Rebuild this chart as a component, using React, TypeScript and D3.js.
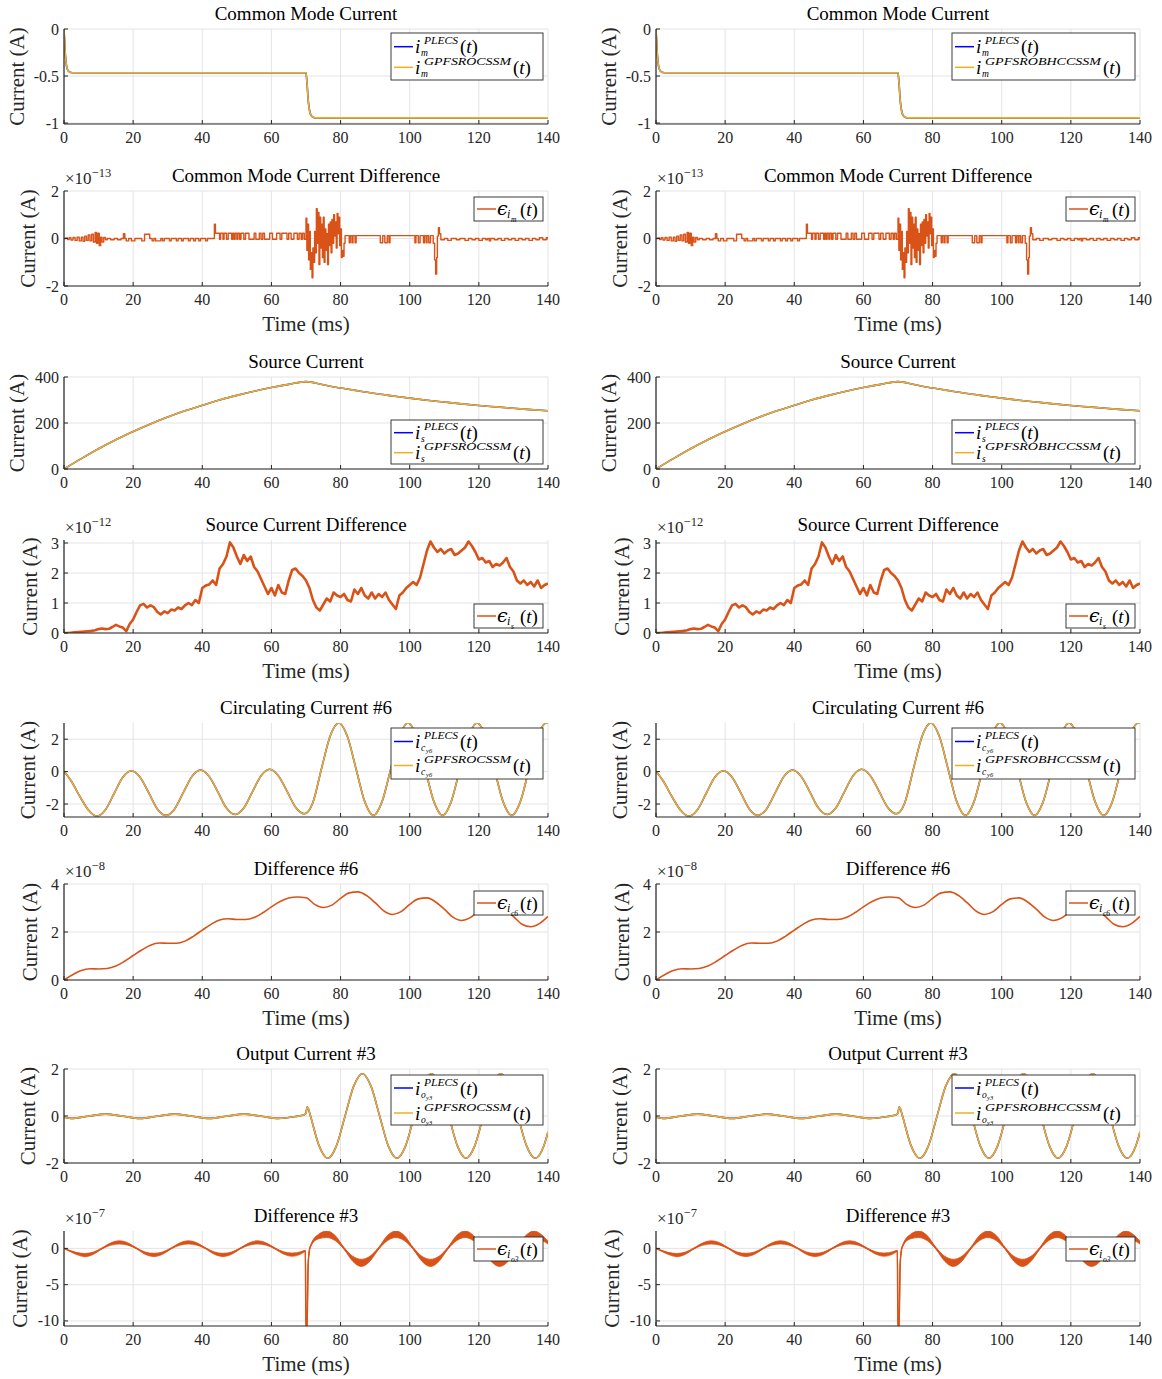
import React from "react";
import * as d3 from "d3";

const FONT = "'Liberation Serif', 'Times New Roman', serif";
const AXIS = "#262626";
const GRID = "#e4e4e4";
const BLUE = "#0000ff";
const GOLD = "#EDB120";
const RED = "#D95319";

const xTicks = [0, 20, 40, 60, 80, 100, 120, 140];
const colLefts = [64, 656];
const PW = 484;

// ---------- Common mode current ----------
const cmT = [0, 0.3, 0.6, 1, 1.5, 2, 3, 70, 70.3, 70.7, 71.1, 71.6, 72.2, 73, 140];
const cmV = [0, -0.22, -0.36, -0.43, -0.455, -0.462, -0.465, -0.465, -0.58, -0.78, -0.88, -0.925, -0.94, -0.945, -0.945];

// ---------- Common mode current difference (x1e-13) ----------
const cmDiffT = [0, 0.5, 1.0, 1.5, 2.0, 2.6, 3.2, 3.8, 4.4, 5.0, 5.5, 6.0, 6.5, 7.0, 7.5, 8.0, 8.5, 9.0, 9.4, 9.8, 10.2, 10.6, 11.0, 11.5, 12.0, 12.5, 13.5, 14.5, 15.5, 16.5, 17.2, 17.6, 18.0, 18.7, 19.5, 20.5, 22.5, 23.3, 24.8, 25.5, 26, 26.5, 28, 28.5, 29, 30.5, 31, 32.5, 33, 34, 34.5, 36, 36.5, 37.5, 38, 39, 39.5, 41, 41.5, 43.5, 43.8, 45, 45.3, 46, 46.3, 47, 47.5, 48.5, 48.8, 49.2, 49.5, 50, 50.3, 50.8, 51.2, 52, 52.5, 53.5, 55, 55.5, 56.5, 57, 57.5, 58, 59.5, 60.3, 61.5, 62.5, 63, 64.5, 65, 65.7, 66.5, 67.5, 68, 68.6, 69, 69.5, 70, 70.25, 70.5, 70.75, 71, 71.25, 71.5, 71.75, 72, 72.25, 72.5, 72.75, 73, 73.25, 73.5, 73.75, 74, 74.25, 74.5, 74.75, 75, 75.25, 75.5, 75.75, 76, 76.25, 76.5, 76.75, 77, 77.25, 77.5, 77.75, 78, 78.25, 78.5, 78.75, 79, 79.25, 79.5, 79.75, 80, 80.25, 80.5, 80.75, 81, 81.3, 82.5, 82.8, 83.3, 83.6, 84.2, 84.5, 91.5, 92.2, 92.8, 93.5, 94, 94.3, 101.5, 101.8, 102.5, 103, 104, 104.3, 104.8, 105, 105.5, 106, 106.8, 107.2, 107.5, 107.8, 108, 108.3, 108.6, 109, 110, 111, 112, 113.5, 114.5, 116, 117, 118, 119, 120, 121, 122, 122.5, 123, 123.4, 124.5, 125.5, 126.5, 127.5, 128.5, 129.5, 130.5, 131.5, 132.5, 133.5, 134.5, 135.5, 136.5, 137.5, 138.5, 139.5, 140];
const cmDiffV = [0, 0.02, -0.04, 0.03, -0.06, 0.04, -0.08, 0.05, -0.1, 0.06, -0.12, 0.1, -0.08, 0.15, -0.1, 0.18, -0.15, 0.25, -0.2, 0.22, -0.3, 0.05, -0.15, 0.04, -0.05, 0, -0.05, 0, -0.05, 0, 0.2, 0, -0.1, 0, -0.1, 0, -0.1, 0.18, 0, -0.1, 0, -0.1, 0, -0.1, 0, -0.1, 0, -0.1, 0, -0.1, 0, -0.1, 0, -0.1, 0, -0.1, 0, -0.1, 0, 0.6, 0.22, -0.03, 0.22, -0.03, 0.22, -0.03, 0.22, -0.03, 0.22, -0.03, 0.22, -0.03, 0.22, -0.03, 0.22, -0.03, 0.22, -0.03, 0.22, -0.03, 0.22, -0.03, 0.22, -0.03, 0.22, -0.03, 0.22, -0.03, 0.22, -0.03, 0.22, -0.03, 0.22, -0.03, 0.22, -0.03, 0.22, -0.03, 0.85, -0.5, 0.6, -0.9, 0.3, -1.3, -0.6, -1.65, -0.4, -1.0, 0.3, -0.6, 1.25, -0.2, 1.1, -1.1, 0.9, -0.4, 0.6, -0.8, 0.9, -1.0, 0.4, -0.5, 0.2, -1.1, 0.6, -0.3, 0.7, -0.6, 0.8, -0.2, 1.0, 0.1, 0.7, -0.4, 1.05, 0.2, 0.9, -0.3, 0.4, -0.8, -0.5, -0.75, -0.2, 0.12, -0.18, 0.12, -0.18, 0.12, -0.18, 0.12, -0.18, 0.12, -0.18, 0.12, -0.18, 0.12, -0.18, 0.12, -0.18, 0.12, -0.18, 0.12, -0.18, 0.12, -0.18, 0.12, -0.2, -0.9, -1.5, -0.8, 0.1, 0.45, 0.2, -0.05, 0, -0.08, 0, -0.05, 0, -0.08, 0, -0.05, 0, -0.08, 0, -0.05, 0, -0.1, 0, -0.05, 0, -0.08, 0, -0.05, 0, -0.08, 0, -0.05, 0, -0.08, 0, -0.05, 0.03, -0.05, 0.03, -0.05];

// ---------- Source current ----------
const srcT = [0, 5, 10, 15, 20, 25, 30, 35, 40, 45, 50, 55, 60, 65, 70, 75, 80, 85, 90, 95, 100, 105, 110, 115, 120, 125, 130, 135, 140];
const srcV = [0, 45, 88, 127, 163, 196, 226, 253, 277, 300, 320, 338, 354, 368, 380, 366, 352, 340, 328, 318, 308, 299, 291, 283, 276, 270, 264, 258, 253];

// ---------- Source current difference (x1e-12), 1 ms samples ----------
const srcDiffV = [0, 0, 0.01, 0.02, 0.03, 0.04, 0.05, 0.06, 0.07, 0.09, 0.13, 0.15, 0.13, 0.14, 0.2, 0.27, 0.22, 0.18, 0.06, 0.3, 0.45, 0.7, 0.92, 0.97, 0.85, 0.92, 0.86, 0.7, 0.62, 0.72, 0.66, 0.78, 0.75, 0.85, 0.8, 0.92, 1.0, 0.93, 1.1, 1.0, 1.5, 1.58, 1.62, 1.75, 1.6, 2.15, 2.3, 2.55, 3.02, 2.85, 2.55, 2.3, 2.6, 2.4, 2.55, 2.2, 2.05, 1.8, 1.55, 1.3, 1.5, 1.25, 1.6, 1.35, 1.3, 1.75, 2.1, 2.15, 2.0, 1.9, 1.75, 1.5, 1.1, 0.85, 0.75, 0.95, 1.15, 1.05, 1.35, 1.25, 1.2, 1.3, 1.1, 1.05, 1.45, 1.3, 1.5, 1.25, 1.15, 1.35, 1.15, 1.3, 1.2, 1.35, 1.1, 0.95, 0.8, 1.25, 1.35, 1.5, 1.6, 1.7, 1.6, 1.85, 2.3, 2.75, 3.05, 2.85, 2.7, 2.8, 2.65, 2.75, 2.8, 2.6, 2.65, 2.75, 2.85, 3.05, 2.9, 2.7, 2.45, 2.5, 2.35, 2.4, 2.2, 2.3, 2.25, 2.35, 2.5, 2.2, 2.05, 1.75, 1.65, 1.75, 1.6, 1.7, 1.55, 1.75, 1.5, 1.6, 1.65];
const srcDiffT = srcDiffV.map((_, i) => i);

// ---------- Circulating current #6 ----------
const circT = [0, 2, 4.5, 7, 9.5, 12, 14.5, 17, 19.5, 22, 24.5, 27, 29.5, 32, 34.5, 37, 39.5, 42, 44.5, 47, 49.5, 52, 54.5, 57, 59.5, 62, 64.5, 67, 69.5, 72, 74.5, 77, 79.5, 82, 84.5, 87, 89.5, 92, 94.5, 97, 99.5, 102, 104.5, 107, 109.5, 112, 114.5, 117, 119.5, 122, 124.5, 127, 129.5, 132, 134.5, 137, 139.5, 140];
const circV = [0, -0.55, -1.5, -2.35, -2.75, -2.35, -1.35, -0.35, 0.05, -0.35, -1.3, -2.3, -2.7, -2.3, -1.3, -0.3, 0.1, -0.3, -1.25, -2.25, -2.65, -2.25, -1.25, -0.25, 0.15, -0.25, -1.2, -2.2, -2.6, -1.9, 0.2, 2.2, 3.0, 2.15, 0.15, -1.85, -2.7, -1.85, 0.15, 2.15, 3.0, 2.15, 0.15, -1.85, -2.7, -1.85, 0.15, 2.15, 3.0, 2.15, 0.15, -1.85, -2.7, -1.85, 0.15, 2.15, 3.0, 2.98];

// ---------- Difference #6 (x1e-8) ----------
const d6T = [0, 2.5, 5, 7.5, 10, 12.5, 15, 17.5, 20, 22.5, 25, 27.5, 30, 32.5, 35, 37.5, 40, 42.5, 45, 47.5, 50, 52.5, 55, 57.5, 60, 62.5, 65, 67.5, 70, 72.5, 75, 77.5, 80, 82.5, 85, 87.5, 90, 92.5, 95, 97.5, 100, 102.5, 105, 107.5, 110, 112.5, 115, 117.5, 120, 122.5, 125, 127.5, 130, 132.5, 135, 137.5, 140];
const d6V = [0, 0.22, 0.4, 0.47, 0.46, 0.48, 0.58, 0.78, 1.02, 1.25, 1.45, 1.54, 1.53, 1.53, 1.62, 1.83, 2.08, 2.32, 2.5, 2.55, 2.52, 2.52, 2.6, 2.8, 3.05, 3.27, 3.42, 3.46, 3.43, 3.15, 3.02, 3.12, 3.4, 3.63, 3.67, 3.52, 3.22, 2.88, 2.73, 2.85, 3.15, 3.38, 3.42, 3.25, 2.95, 2.62, 2.48, 2.6, 2.88, 3.1, 3.15, 2.98, 2.65, 2.32, 2.22, 2.35, 2.65];

// ---------- Output current #3 ----------
const outT = [0, 2, 7, 12, 17, 22, 27, 32, 37, 42, 47, 52, 57, 62, 67, 69.5, 70.0, 70.3, 70.7, 71.3, 73.8, 76.3, 78.8, 81.3, 83.8, 86.3, 88.8, 91.3, 93.8, 96.3, 98.8, 101.3, 103.8, 106.3, 108.8, 111.3, 113.8, 116.3, 118.8, 121.3, 123.8, 126.3, 128.8, 131.3, 133.8, 136.3, 138.8, 140];
const outV = [-0.05, -0.1, -0.01, 0.08, -0.01, -0.1, -0.01, 0.08, -0.01, -0.1, -0.01, 0.08, -0.01, -0.1, -0.02, 0.05, 0.12, 0.38, 0.3, 0.0, -1.27, -1.8, -1.27, 0, 1.27, 1.8, 1.27, 0, -1.27, -1.8, -1.27, 0, 1.27, 1.8, 1.27, 0, -1.27, -1.8, -1.27, 0, 1.27, 1.8, 1.27, 0, -1.27, -1.8, -1.27, -0.68];

// ---------- Difference #3 (x1e-7): centre and ripple half-width ----------
const d3T = [0, 1, 3.5, 6, 8.5, 11, 13.5, 16, 18.5, 21, 23.5, 26, 28.5, 31, 33.5, 36, 38.5, 41, 43.5, 46, 48.5, 51, 53.5, 56, 58.5, 61, 63.5, 66, 68.5, 69.8, 70.0, 70.3, 70.6, 71, 71.5, 72.2, 73.5, 76, 78.5, 81, 83.5, 86, 88.5, 91, 93.5, 96, 98.5, 101, 103.5, 106, 108.5, 111, 113.5, 116, 118.5, 121, 123.5, 126, 128.5, 131, 133.5, 136, 138.5, 140];
const d3C = [0, -0.2, -0.68, -0.92, -0.66, 0, 0.6, 0.83, 0.6, 0, -0.66, -0.9, -0.65, 0, 0.6, 0.83, 0.6, 0, -0.65, -0.9, -0.65, 0, 0.6, 0.83, 0.6, 0, -0.62, -0.86, -0.62, -0.35, -11, -11, -2.5, -0.2, 0.5, 1.1, 1.6, 1.95, 1.4, 0, -1.42, -2.0, -1.42, 0, 1.4, 1.95, 1.4, 0, -1.42, -2.0, -1.42, 0, 1.4, 1.95, 1.4, 0, -1.42, -2.0, -1.42, 0, 1.4, 1.95, 1.4, 0.8];
const d3H = [0.02, 0.04, 0.14, 0.22, 0.16, 0.06, 0.16, 0.22, 0.16, 0.06, 0.16, 0.22, 0.16, 0.06, 0.16, 0.22, 0.16, 0.06, 0.16, 0.22, 0.16, 0.06, 0.16, 0.22, 0.16, 0.06, 0.16, 0.22, 0.16, 0.08, 0.05, 0.05, 0.05, 0.05, 0.1, 0.2, 0.3, 0.45, 0.35, 0.12, 0.35, 0.5, 0.35, 0.12, 0.35, 0.45, 0.35, 0.12, 0.35, 0.5, 0.35, 0.12, 0.35, 0.45, 0.35, 0.12, 0.35, 0.5, 0.35, 0.12, 0.35, 0.45, 0.35, 0.2];

const methodNames = ["GPFSROCSSM", "GPFSROBHCCSSM"];
const methodSupW = [87, 116];
const legendW = [152, 183];

type Series =
  | { type: "line"; t: number[]; v: number[]; color: string; width: number; curve: any }
  | { type: "band"; t: number[]; c: number[]; h: number[]; color: string };

type Row = {
  title: string;
  top: number;
  bottom: number;
  domain: [number, number];
  yTicks: number[];
  yLabels: string[];
  ylabelX: number;
  xlabel: boolean;
  exp: string | null;
  series: Series[];
  legend: { kind: "main" | "diff"; y: number; h: number; e1: number; e2: number; sub: string; subsub: string };
};

const rows: Row[] = [
  {
    title: "Common Mode Current", top: 29, bottom: 124, domain: [-1.01, 0],
    yTicks: [-1, -0.5, 0], yLabels: ["-1", "-0.5", "0"], ylabelX: 17, xlabel: false, exp: null,
    series: [
      { type: "line", t: cmT, v: cmV, color: BLUE, width: 1.6, curve: d3.curveMonotoneX },
      { type: "line", t: cmT, v: cmV, color: GOLD, width: 1.6, curve: d3.curveMonotoneX },
    ],
    legend: { kind: "main", y: 33, h: 47, e1: 13.7, e2: 34.3, sub: "m", subsub: "" },
  },
  {
    title: "Common Mode Current Difference", top: 191, bottom: 286, domain: [-2, 2],
    yTicks: [-2, 0, 2], yLabels: ["-2", "0", "2"], ylabelX: 28, xlabel: true, exp: "13",
    series: [{ type: "line", t: cmDiffT, v: cmDiffV, color: RED, width: 1.4, curve: d3.curveStepAfter }],
    legend: { kind: "diff", y: 197, h: 24, e1: 12, e2: 0, sub: "i", subsub: "m" },
  },
  {
    title: "Source Current", top: 377, bottom: 469, domain: [0, 400],
    yTicks: [0, 200, 400], yLabels: ["0", "200", "400"], ylabelX: 17, xlabel: false, exp: null,
    series: [
      { type: "line", t: srcT, v: srcV, color: BLUE, width: 1.6, curve: d3.curveMonotoneX },
      { type: "line", t: srcT, v: srcV, color: GOLD, width: 1.6, curve: d3.curveMonotoneX },
    ],
    legend: { kind: "main", y: 420, h: 44, e1: 12.7, e2: 32.7, sub: "s", subsub: "" },
  },
  {
    title: "Source Current Difference", top: 540, bottom: 633, domain: [0, 3.1],
    yTicks: [0, 1, 2, 3], yLabels: ["0", "1", "2", "3"], ylabelX: 30, xlabel: true, exp: "12",
    series: [{ type: "line", t: srcDiffT, v: srcDiffV, color: RED, width: 2.6, curve: d3.curveLinear }],
    legend: { kind: "diff", y: 604, h: 24, e1: 12, e2: 0, sub: "i", subsub: "s" },
  },
  {
    title: "Circulating Current #6", top: 723, bottom: 817, domain: [-2.8, 3.0],
    yTicks: [-2, 0, 2], yLabels: ["-2", "0", "2"], ylabelX: 28, xlabel: false, exp: null,
    series: [
      { type: "line", t: circT, v: circV, color: BLUE, width: 1.6, curve: d3.curveMonotoneX },
      { type: "line", t: circT, v: circV, color: GOLD, width: 1.6, curve: d3.curveMonotoneX },
    ],
    legend: { kind: "main", y: 728, h: 51, e1: 13.5, e2: 37.5, sub: "c", subsub: "y6" },
  },
  {
    title: "Difference #6", top: 884, bottom: 980, domain: [0, 4],
    yTicks: [0, 2, 4], yLabels: ["0", "2", "4"], ylabelX: 30, xlabel: true, exp: "8",
    series: [{ type: "line", t: d6T, v: d6V, color: RED, width: 1.6, curve: d3.curveMonotoneX }],
    legend: { kind: "diff", y: 891, h: 24, e1: 12, e2: 0, sub: "i", subsub: "c6" },
  },
  {
    title: "Output Current #3", top: 1069, bottom: 1163, domain: [-2, 2],
    yTicks: [-2, 0, 2], yLabels: ["-2", "0", "2"], ylabelX: 28, xlabel: false, exp: null,
    series: [
      { type: "line", t: outT, v: outV, color: BLUE, width: 1.6, curve: d3.curveMonotoneX },
      { type: "line", t: outT, v: outV, color: GOLD, width: 1.6, curve: d3.curveMonotoneX },
    ],
    legend: { kind: "main", y: 1075, h: 50, e1: 13, e2: 38, sub: "o", subsub: "y3" },
  },
  {
    title: "Difference #3", top: 1231, bottom: 1326, domain: [-10.7, 2.4],
    yTicks: [-10, -5, 0], yLabels: ["-10", "-5", "0"], ylabelX: 20, xlabel: true, exp: "7",
    series: [{ type: "band", t: d3T, c: d3C, h: d3H, color: RED }],
    legend: { kind: "diff", y: 1237, h: 24, e1: 12, e2: 0, sub: "i", subsub: "o3" },
  },
];

function MainEntry({ x, yL, color, sup, supW, sub, subsub }: any) {
  return (
    <g>
      <line x1={x + 3} x2={x + 22} y1={yL} y2={yL} stroke={color} strokeWidth={1.5} />
      <text x={x + 24} y={yL + 6.5} fontSize={19} fontStyle="italic">i</text>
      <text x={x + 33} y={yL - 2.5} fontSize={11} fontStyle="italic" textLength={supW} lengthAdjust="spacingAndGlyphs">{sup}</text>
      <text x={x + 30} y={yL + 9.5} fontSize={9.5} fontStyle="italic">{sub}</text>
      {subsub && <text x={x + 35} y={yL + 11.5} fontSize={6.5} fontStyle="italic">{subsub}</text>}
      <text x={x + 33 + supW + 2} y={yL + 6.5} fontSize={19}>(<tspan fontStyle="italic">t</tspan>)</text>
    </g>
  );
}

function DiffEntry({ x, yL, sub, subsub }: any) {
  return (
    <g>
      <line x1={x + 3} x2={x + 22} y1={yL} y2={yL} stroke={RED} strokeWidth={1.5} />
      <text x={x + 23} y={yL + 6} fontSize={19} fontStyle="italic" fontFamily="'DejaVu Serif', serif">ϵ</text>
      <text x={x + 33} y={yL + 9} fontSize={12} fontStyle="italic">{sub}</text>
      <text x={x + 37} y={yL + 12.5} fontSize={7.5} fontStyle="italic">{subsub}</text>
      <text x={x + 46} y={yL + 6.5} fontSize={19}>(<tspan fontStyle="italic">t</tspan>)</text>
    </g>
  );
}

function Panel({ row, col, idx }: { row: Row; col: number; idx: number }) {
  const left = colLefts[col];
  const right = left + PW;
  const x = d3.scaleLinear().domain([0, 140]).range([left, right]);
  const y = d3.scaleLinear().domain(row.domain).range([row.bottom, row.top]);
  const clipId = `clip-${idx}-${col}`;
  const lg = row.legend;
  const lw = lg.kind === "main" ? legendW[col] : 69;
  const lx = right - 5 - lw;
  return (
    <g>
      <defs>
        <clipPath id={clipId}>
          <rect x={left} y={row.top} width={PW} height={row.bottom - row.top} />
        </clipPath>
      </defs>
      {xTicks.map((t) => (
        <line key={"gx" + t} x1={x(t)} x2={x(t)} y1={row.top} y2={row.bottom} stroke={GRID} strokeWidth={1} />
      ))}
      {row.yTicks.map((t) => (
        <line key={"gy" + t} x1={left} x2={right} y1={y(t)} y2={y(t)} stroke={GRID} strokeWidth={1} />
      ))}
      <g clipPath={`url(#${clipId})`}>
        {row.series.map((s, i) => {
          if (s.type === "line") {
            const gen = d3
              .line<number>()
              .x((_, j) => x(s.t[j]))
              .y((d) => y(d))
              .curve(s.curve);
            return <path key={i} d={gen(s.v) || ""} fill="none" stroke={s.color} strokeWidth={s.width} strokeLinejoin="round" />;
          }
          const area = d3
            .area<number>()
            .x((_, j) => x(s.t[j]))
            .y0((d, j) => y(d - s.h[j]))
            .y1((d, j) => y(d + s.h[j]))
            .curve(d3.curveMonotoneX);
          const ln = d3
            .line<number>()
            .x((_, j) => x(s.t[j]))
            .y((d) => y(d))
            .curve(d3.curveMonotoneX);
          return (
            <g key={i}>
              <path d={area(s.c) || ""} fill={s.color} stroke={s.color} strokeWidth={0.8} />
              <path d={ln(s.c) || ""} fill="none" stroke={s.color} strokeWidth={1.5} />
            </g>
          );
        })}
      </g>
      <line x1={left} x2={right} y1={row.bottom} y2={row.bottom} stroke={AXIS} strokeWidth={1.2} />
      <line x1={left} x2={left} y1={row.top} y2={row.bottom} stroke={AXIS} strokeWidth={1.2} />
      {xTicks.map((t) => (
        <g key={"xt" + t}>
          <line x1={x(t)} x2={x(t)} y1={row.bottom} y2={row.bottom - 4} stroke={AXIS} strokeWidth={1} />
          <text x={x(t)} y={row.bottom + 19} fontSize={16} textAnchor="middle" fill={AXIS}>{t}</text>
        </g>
      ))}
      {row.yTicks.map((t, i) => (
        <g key={"yt" + t}>
          <line x1={left} x2={left + 4} y1={y(t)} y2={y(t)} stroke={AXIS} strokeWidth={1} />
          <text x={left - 5} y={y(t) + 5.5} fontSize={16} textAnchor="end" fill={AXIS}>{row.yLabels[i]}</text>
        </g>
      ))}
      <text x={(left + right) / 2} y={row.top - 9} fontSize={19} textAnchor="middle" fill="#000">{row.title}</text>
      <text
        transform={`translate(${row.ylabelX + col * 592},${(row.top + row.bottom) / 2}) rotate(-90)`}
        fontSize={21} textAnchor="middle" dominantBaseline="central" fill={AXIS}
      >
        Current (A)
      </text>
      {row.xlabel && (
        <text x={(left + right) / 2} y={row.bottom + 45} fontSize={21} textAnchor="middle" fill={AXIS}>Time (ms)</text>
      )}
      {row.exp && (
        <text x={left + 1} y={row.top - 7} fontSize={17} fill={AXIS}>
          ×10<tspan dy={-7} fontSize={12.5}>{"\u2212" + row.exp}</tspan>
        </text>
      )}
      <rect x={lx} y={lg.y} width={lw} height={lg.h} fill="#fff" stroke={AXIS} strokeWidth={0.9} />
      {lg.kind === "main" ? (
        <g>
          <MainEntry x={lx} yL={lg.y + lg.e1} color={BLUE} sup="PLECS" supW={34} sub={lg.sub} subsub={lg.subsub} />
          <MainEntry x={lx} yL={lg.y + lg.e2} color={GOLD} sup={methodNames[col]} supW={methodSupW[col]} sub={lg.sub} subsub={lg.subsub} />
        </g>
      ) : (
        <DiffEntry x={lx} yL={lg.y + lg.e1} sub={lg.sub} subsub={lg.subsub} />
      )}
    </g>
  );
}

export default function App() {
  return (
    <svg
      width={1162}
      height={1379}
      style={{ position: "absolute", left: 0, top: 0, background: "#fff" }}
      fontFamily={FONT}
    >
      <rect x={0} y={0} width={1162} height={1379} fill="#fff" />
      {[0, 1].map((col) => rows.map((row, i) => <Panel key={`${col}-${i}`} row={row} col={col} idx={i} />))}
    </svg>
  );
}
